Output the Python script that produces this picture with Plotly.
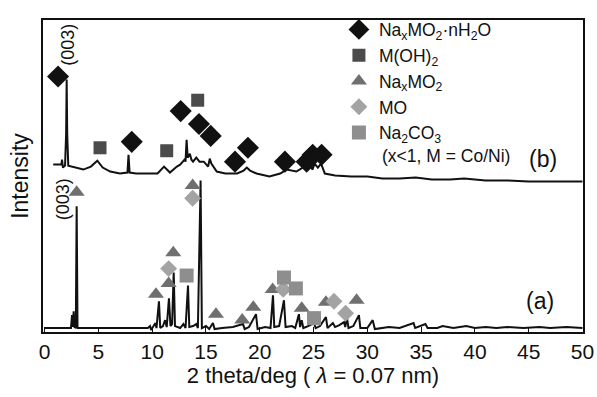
import plotly.graph_objects as go

# ---- spectrum (a): 2theta (deg) and intensity (a.u.)
a_2theta = [0, 2.45, 2.55, 2.62, 2.7, 2.78, 2.9, 2.98, 3.06, 3.5, 9.6, 9.8, 9.9, 10.3, 10.4, 10.63, 10.75,
            11.0, 11.2, 11.35, 11.56, 11.7, 11.85, 12.0, 12.12, 12.6, 12.9, 13.1, 13.33, 13.45, 13.8,
            14.1, 14.25, 14.5, 14.62, 15.0, 15.3, 15.65, 15.8, 16.5, 17.5, 18.44, 18.6, 19.0, 19.65,
            19.8, 20.5, 21.0, 21.23, 21.35, 21.8, 22.25, 22.4, 23.0, 23.3, 23.64, 23.75, 23.9, 24.05,
            24.5, 25.04, 25.2, 25.6, 26.15, 26.3, 26.8, 27.0, 27.4, 27.83, 27.95, 28.1, 28.25, 28.7,
            29.22, 29.35, 30.0, 30.5, 30.7, 31.5, 32.0, 33.0, 34.3, 34.45, 35.4, 35.6, 36.5, 37.0,
            38.0, 39.2, 40.0, 41.0, 42.0, 43.0, 44.5, 46.0, 47.0, 48.5, 50.0]
a_int = [4, 4, 17, 5, 21, 5, 4, 127, 4, 4, 4, 6, 2, 9, 4, 31, 4,
         6, 12, 5, 34, 6, 8, 60, 6, 4, 8, 4, 47, 5, 6,
         8, 4, 153, 4, 6, 3, 9, 3, 4, 5, 8, 3, 5, 18,
         3, 5, 4, 37, 5, 6, 32, 5, 6, 4, 18, 5, 12, 4,
         6, 9, 4, 6, 15, 4, 9, 5, 7, 10, 5, 15, 4, 6,
         17, 4, 4, 12, 3, 4, 5, 4, 9, 4, 8, 4, 4, 6,
         4, 6, 4, 5, 4, 5, 4, 5, 4, 5, 4]

# ---- spectrum (b)
b_2theta = [0.8, 1.55, 1.62, 1.7, 1.9, 2.0, 2.05, 2.1, 2.2, 2.5, 3.6, 4.3, 4.9, 5.4, 6.1, 7.0, 7.7, 7.8,
            7.9, 8.5, 10.5, 11.1, 11.65, 12.3, 12.6, 13.0, 13.1, 13.2, 13.3, 13.5, 13.65, 13.8, 14.1,
            14.4, 14.8, 15.2, 15.35, 15.5, 16.0, 16.8, 17.9, 18.5, 18.8, 19.1, 19.7, 20.9, 21.9, 22.5,
            23.4, 24.0, 24.4, 24.7, 24.9, 25.1, 25.4, 25.7, 26.05, 27.0, 28.5, 30.0, 31.4, 33.0, 34.5,
            36.0, 37.7, 39.0, 41.0, 43.0, 45.0, 47.0, 50.0]
b_int = [169, 169, 174, 166, 168, 200, 255, 200, 168, 167, 164, 167, 173, 166, 162, 160, 161, 179,
         161, 160, 160, 167, 161, 167, 169, 174, 172, 194, 176, 180, 174, 172, 176,
         172, 172, 167, 175, 170, 162, 160, 160, 163, 166, 163, 160, 157, 160, 164,
         162, 166, 164, 168, 164, 170, 166, 170, 160, 158, 157, 157, 155, 155, 156,
         154, 154, 155, 153, 153, 152, 152, 152]

# ---- phase markers
hyd_x = [1.25, 8.1, 12.65, 14.35, 15.44, 17.7, 18.9, 22.34, 24.36, 24.92, 25.75]
hyd_y = [258, 192, 223, 210, 198, 172, 186, 172, 172, 179, 179]
oh_x = [5.15, 11.35, 14.23]
oh_y = [186, 183, 234]
namo_x = [2.98, 13.76, 11.96, 11.53, 10.35, 15.93, 18.37, 19.4, 21.2, 23.9, 26.15, 29.0]
namo_y = [141, 148, 80, 49, 38, 18, 12, 25, 43, 24, 30, 32]
mo_x = [13.76, 11.53, 22.18, 26.9, 27.98]
mo_y = [135, 64, 43, 31, 19]
carb_x = [13.2, 22.25, 23.36, 25.04]
carb_y = [57, 55, 44, 14]

x_ticks = [0, 5, 10, 15, 20, 25, 30, 35, 40, 45, 50]

FONT = "Liberation Sans, Arial, sans-serif"

fig = go.Figure()
fig.add_trace(go.Scatter(x=a_2theta, y=a_int, mode="lines", line=dict(color="#111", width=2),
                         showlegend=False, hoverinfo="skip"))
fig.add_trace(go.Scatter(x=b_2theta, y=b_int, mode="lines", line=dict(color="#111", width=2),
                         showlegend=False, hoverinfo="skip"))

def mk(x, y, name, symbol, color, size):
    fig.add_trace(go.Scatter(x=x, y=y, mode="markers", name=name,
                             marker=dict(symbol=symbol, color=color, size=size, line=dict(width=0))))

mk(hyd_x, hyd_y, "Na<sub>x</sub>MO<sub>2</sub>·nH<sub>2</sub>O", "diamond", "#111111", 17)
mk(oh_x, oh_y, "M(OH)<sub>2</sub>", "square", "#4b4b4b", 13)
mk(namo_x, namo_y, "Na<sub>x</sub>MO<sub>2</sub>", "triangle-up", "#6f6f6f", 14)
mk(mo_x, mo_y, "MO", "diamond", "#a3a3a3", 13)
mk(carb_x, carb_y, "Na<sub>2</sub>CO<sub>3</sub>", "square", "#8e8e8e", 14)

fig.update_layout(
    width=597, height=397,
    margin=dict(l=43, r=14, t=17, b=65),
    paper_bgcolor="white", plot_bgcolor="white",
    font=dict(family=FONT, color="#111"),
    showlegend=True,
    legend=dict(x=0.548, y=1.027, xanchor="left", yanchor="top", bgcolor="rgba(0,0,0,0)",
                font=dict(size=17.5, family=FONT), itemsizing="trace", tracegroupgap=0),
    xaxis=dict(range=[-0.15, 50.05], tickmode="array", tickvals=x_ticks,
               ticks="inside", ticklen=5, tickwidth=1.2, tickcolor="#111",
               showline=True, mirror=True, linecolor="#111", linewidth=1.5, automargin=False,
               showgrid=False, zeroline=False, tickfont=dict(size=21, family=FONT),
               title=dict(text="2 theta/deg ( <i>λ</i> = 0.07 nm)", font=dict(size=22, family=FONT),
                          standoff=6)),
    yaxis=dict(range=[0, 315], showticklabels=False, ticks="", showline=True, mirror=True,
               linecolor="#111", linewidth=1.5, showgrid=False, zeroline=False, automargin=False,
               title=dict(text="Intensity", font=dict(size=23, family=FONT), standoff=6)),
)

fig.add_annotation(x=2.17, y=290, xref="x", yref="y", text="(003)", textangle=-90, showarrow=False,
                   font=dict(size=18, family=FONT))
fig.add_annotation(x=1.71, y=134, xref="x", yref="y", text="(003)", textangle=-90, showarrow=False,
                   font=dict(size=18, family=FONT))
fig.add_annotation(x=0.624, y=0.565, xref="paper", yref="paper", text="(x&lt;1, M = Co/Ni)",
                   xanchor="left", yanchor="middle", showarrow=False, font=dict(size=17.5, family=FONT))
fig.add_annotation(x=0.9556, y=0.5556, xref="paper", yref="paper", text="(b)", showarrow=False,
                   font=dict(size=23, family=FONT))
fig.add_annotation(x=0.95, y=0.0508, xref="paper", yref="paper", text="(a)", showarrow=False,
                   font=dict(size=23, family=FONT))

fig.write_html("out.html", config={"displayModeBar": False},
               post_script="document.body.style.margin='0';document.body.style.padding='0';")
